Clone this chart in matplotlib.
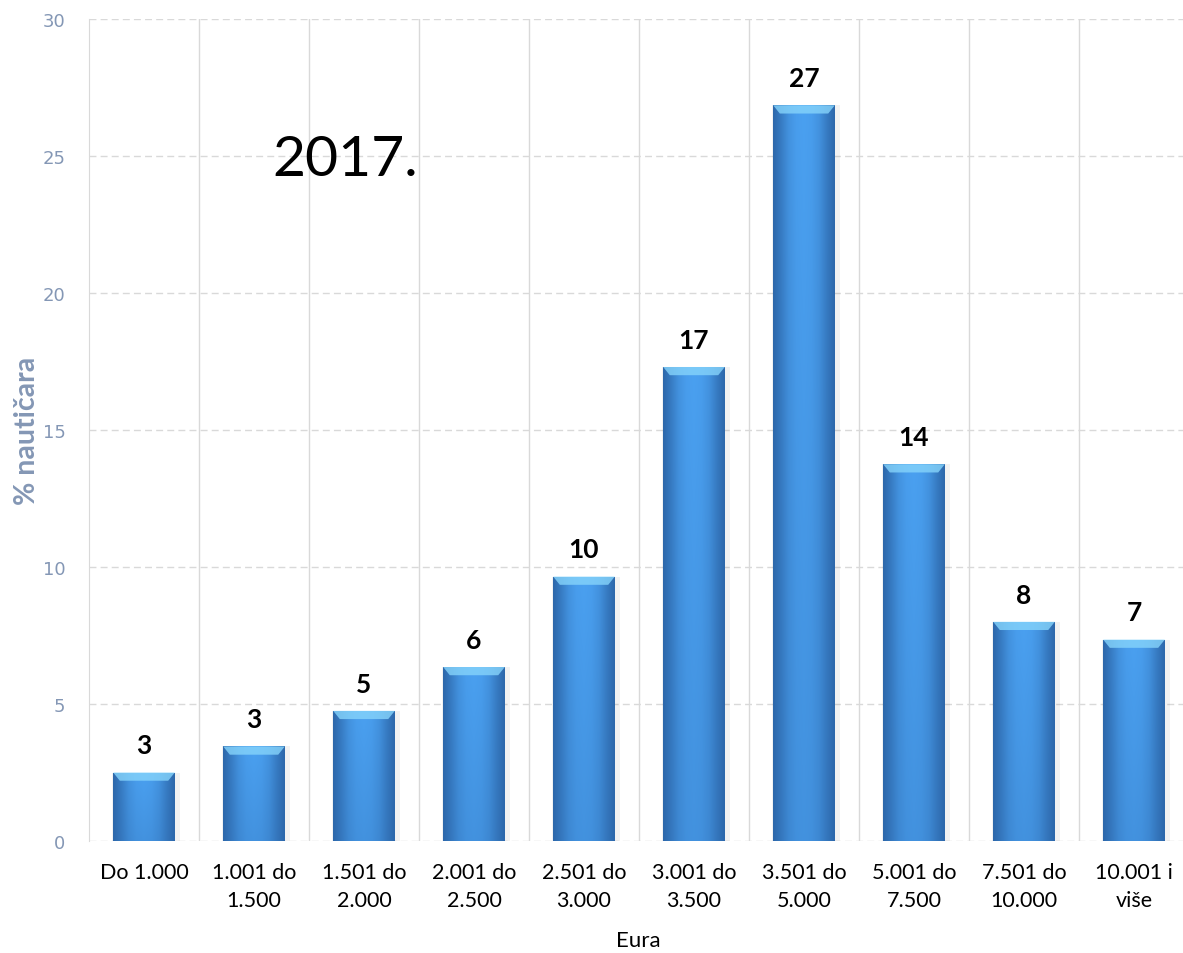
import numpy as np
import matplotlib
matplotlib.use("Agg")
import matplotlib.pyplot as plt
from matplotlib.colors import LinearSegmentedColormap

categories = ["Do 1.000", "1.001 do\n1.500", "1.501 do\n2.000", "2.001 do\n2.500",
              "2.501 do\n3.000", "3.001 do\n3.500", "3.501 do\n5.000", "5.001 do\n7.500",
              "7.501 do\n10.000", "10.001 i\nviše"]
values = [2.5, 3.45, 4.75, 6.35, 9.65, 17.3, 26.85, 13.75, 8.0, 7.35]
labels = ["3", "3", "5", "6", "10", "17", "27", "14", "8", "7"]
yticks = [0, 5, 10, 15, 20, 25, 30]

W, H = 1183, 954
fig = plt.figure(figsize=(W / 100, H / 100), dpi=100)
ax = fig.add_axes([89 / W, 1 - 842 / H, (1183 - 89) / W, (842 - 20) / H])

x = np.arange(len(categories))

tick_col = "#8497b5"
main_font = ["Lato", "DejaVu Sans"]

# grid
for yv in yticks:
    ax.axhline(yv, color="#d9d9d9", lw=1, ls=(0, (5, 3)), zorder=0)
for b in np.arange(0.5, len(categories) - 0.5, 1.0):
    ax.axvline(b, color="#d9d9d9", lw=1, zorder=0)

for s in ["top", "right", "bottom"]:
    ax.spines[s].set_visible(False)
ax.spines["left"].set_color("#d9d9d9")

bw = 0.56
ax.bar(x + 0.02, values, width=bw + 0.06, color="#000000", alpha=0.05, zorder=1, linewidth=0)
bars = ax.bar(x, values, width=bw, color="#3f8bd8", zorder=2, linewidth=0)

hprof = np.array([0.0, 0.35, 0.75, 0.95, 1.0, 0.95, 0.75, 0.35, 0.0])
cmap = LinearSegmentedColormap.from_list("b", ["#2d68ab", "#4aa0f0"])
for rect, v, lab in zip(bars, values, labels):
    x0 = rect.get_x()
    xs = np.interp(np.linspace(0, 1, 60), np.linspace(0, 1, len(hprof)), hprof)
    ys = np.linspace(0.75, 1.0, 80)[:, None]
    img = (xs[None, :] * ys)
    im = ax.imshow(img, extent=[x0, x0 + bw, 0, v], origin="lower", aspect="auto",
                   cmap=cmap, vmin=0, vmax=1, zorder=3, interpolation="bilinear")
    im.set_clip_path(rect)
    bt = 0.3
    ax.fill([x0, x0 + bw, x0 + bw - 0.06, x0 + 0.06], [v, v, v - bt, v - bt],
            color="#86d4fb", alpha=0.8, zorder=4, lw=0)
    ax.annotate(lab, (rect.get_x() + bw / 2, v),
                xytext=(0, 11), textcoords="offset points", ha="center", va="bottom",
                fontsize=19, fontweight="bold", family=main_font, color="black", zorder=5)
ax.set_xlim(-0.5, -0.5 + (1183 - 89) / 110)
ax.set_ylim(0, 30)

ax.set_xticks(x)
ax.set_xticklabels(categories, fontsize=15.5, family=main_font, color="black", linespacing=1.5)
ax.tick_params(axis="x", length=0, pad=15)
ax.set_yticks(yticks)
ax.set_yticklabels([str(t) for t in yticks], fontsize=13, family="DejaVu Sans", color=tick_col)
ax.tick_params(axis="y", length=0, pad=17)

ax.set_ylabel("% nautičara", fontsize=20.5, fontweight="bold", family=main_font,
              color=tick_col)
ax.yaxis.set_label_coords((40 - 89) / 1094, 0.5)

fig.text(638 / W, 1 - 941 / H, "Eura", fontsize=16, family=main_font, color="black",
         ha="center", va="center")

ax.text(272 / W, 1 - 161 / H, "2017.", transform=fig.transFigure, fontsize=41,
        family=main_font, color="black", ha="left", va="center")

fig.savefig("out.png", dpi=100)
